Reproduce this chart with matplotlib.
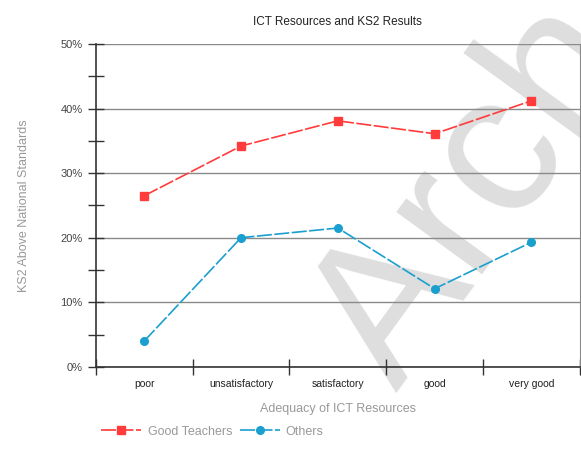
import matplotlib
matplotlib.use('Agg')
import matplotlib.pyplot as plt
from matplotlib.ticker import FixedLocator, NullFormatter, FuncFormatter

plt.rcParams.update({
    "font.family": "Liberation Sans",
    "font.size": 8,
})

categories = ["poor", "unsatisfactory", "satisfactory", "good", "very good"]
good_teachers = [26.5, 34.2, 38.1, 36.1, 41.2]
others = [4.0, 20.0, 21.5, 12.1, 19.3]

RED = "#ff3b3b"
BLUE = "#1a9fcf"
GRID = "#8a8a8a"

fig = plt.figure(figsize=(5.81, 4.49), dpi=100)
ax = fig.add_axes([0.165, 0.183, 0.833, 0.719])
ax.set_zorder(1)
ax.set_facecolor("none")

# faint watermark behind the plot
fig.text(0.82, 0.565, "Arch", fontsize=145, color="#dedede", rotation=54,
         ha="center", va="center", zorder=0)

x = range(len(categories))
ax.plot(x, good_teachers, color=RED, marker="s", markersize=5.5, linewidth=1.2,
        dashes=(9, 1.5), label="Good Teachers", zorder=3)
ax.plot(x, others, color=BLUE, marker="o", markersize=5.5, linewidth=1.2,
        dashes=(9, 1.5), label="Others", zorder=3)

ax.set_xlim(-0.5, len(categories) - 0.5)
ax.set_ylim(0, 50)

ax.yaxis.set_major_locator(FixedLocator([0, 10, 20, 30, 40, 50]))
ax.yaxis.set_minor_locator(FixedLocator([5, 15, 25, 35, 45]))
ax.yaxis.set_major_formatter(FuncFormatter(lambda v, p: f"{int(v)}%"))
ax.grid(axis="y", which="major", color=GRID, linewidth=1)

ax.xaxis.set_major_locator(FixedLocator([i - 0.5 for i in range(len(categories) + 1)]))
ax.xaxis.set_major_formatter(NullFormatter())
ax.xaxis.set_minor_locator(FixedLocator(list(x)))
ax.set_xticklabels(categories, minor=True)
ax.tick_params(axis="x", which="minor", length=0, pad=9, labelsize=7.5, labelcolor="#222222")
ax.tick_params(axis="x", which="major", direction="inout", length=12, width=1, color="#333333")
ax.tick_params(axis="y", which="both", direction="inout", length=12, width=1, color="#333333",
               labelsize=8, labelcolor="#444444")

for side in ["left", "bottom"]:
    ax.spines[side].set_color("#333333")
    ax.spines[side].set_linewidth(1.2)
ax.spines["top"].set_visible(False)
ax.spines["right"].set_color(GRID)

ax.set_title("ICT Resources and KS2 Results", fontsize=8.5, color="#222222", pad=14)
ax.set_xlabel("Adequacy of ICT Resources", fontsize=9, color="#999999", labelpad=10)
ax.set_ylabel("KS2 Above National Standards", fontsize=9, color="#999999", labelpad=22)

fig.legend(loc="lower left", bbox_to_anchor=(0.155, 0.0), ncol=2, frameon=False,
           fontsize=9, labelcolor="#999999", handlelength=3.2, columnspacing=0.6,
           handletextpad=0.5)

fig.savefig("out.png", dpi=100)
